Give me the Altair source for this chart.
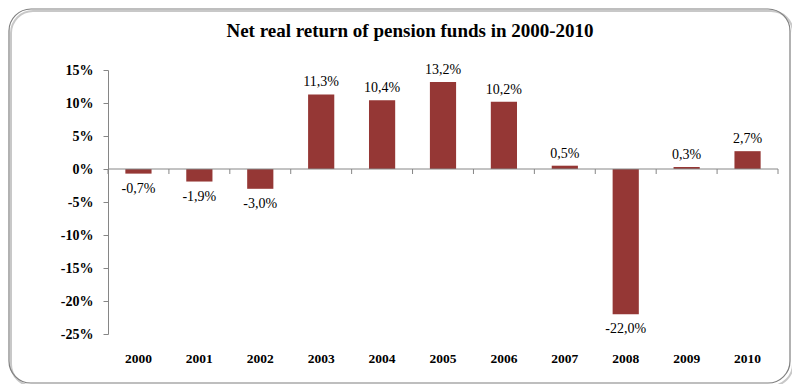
import altair as alt
import pandas as pd

years = ["2000", "2001", "2002", "2003", "2004", "2005", "2006", "2007", "2008", "2009", "2010"]
returns = [-0.7, -1.9, -3.0, 11.3, 10.4, 13.2, 10.2, 0.5, -22.0, 0.3, 2.7]
y_ticks = [-25, -20, -15, -10, -5, 0, 5, 10, 15]
title_text = "Net real return of pension funds in 2000-2010"

df = pd.DataFrame({"year": years, "v": returns})

FONT = "'Liberation Serif', 'Times New Roman', serif"
BAR = "#953735"
GRAY = "#868686"

xscale = alt.Scale(paddingInner=0.57, paddingOuter=0.285)
yscale = alt.Scale(domain=[-25, 15], nice=False)

yax = alt.Axis(values=y_ticks, tickCount=len(y_ticks), labelExpr="datum.value + '%'",
               grid=False, labelOverlap=False, title=None,
               domainColor=GRAY, tickColor=GRAY, tickSize=5, labelPadding=10,
               labelFont=FONT, labelFontSize=14, labelFontWeight="bold",
               labelColor="black", zindex=1)

base = alt.Chart(df)

bars = base.mark_bar(color=BAR).encode(
    x=alt.X("year:O", scale=xscale, title=None,
            axis=alt.Axis(domain=False, ticks=False, labelAngle=0, labelPadding=17,
                          labelFont=FONT, labelFontSize=13.5, labelFontWeight="bold",
                          labelColor="black", zindex=1)),
    y=alt.Y("v:Q", scale=yscale, title=None, axis=yax),
)

label_expr = "replace(replace(format(datum.v, '.1f'), '.', ','), '\u2212', '-') + '%'"

pos_text = base.transform_filter("datum.v >= 0").transform_calculate(
    lab=label_expr
).mark_text(font=FONT, fontSize=14, baseline="bottom", dy=-5, color="black").encode(
    x=alt.X("year:O", scale=xscale),
    y=alt.Y("v:Q", scale=yscale, title=None, axis=yax), text="lab:N"
)

neg_text = base.transform_filter("datum.v < 0").transform_calculate(
    lab=label_expr
).mark_text(font=FONT, fontSize=14, baseline="top", dy=8, color="black").encode(
    x=alt.X("year:O", scale=xscale),
    y=alt.Y("v:Q", scale=yscale, title=None, axis=yax), text="lab:N"
)

# zero line and category boundary ticks
step = 670 / len(years)
zero_line = alt.Chart(alt.Data(values=[{}])).mark_rule(color=GRAY, strokeWidth=1).encode(
    x=alt.value(0), x2=alt.value(670), y=alt.datum(0, scale=yscale)
)
bound_ticks = base.mark_rule(color=GRAY, xOffset=-step / 2, y2Offset=5).encode(
    x=alt.X("year:O", scale=xscale),
    y=alt.datum(0), y2=alt.datum(0)
)
end_tick = alt.Chart(alt.Data(values=[{}])).mark_rule(color=GRAY, y2Offset=5).encode(
    x=alt.value(670), y=alt.datum(0), y2=alt.datum(0)
)

frame_data = alt.Data(values=[{}])
shadow = alt.Chart(frame_data).mark_rect(
    fill=None, stroke="#c8c8c8", strokeWidth=2, cornerRadius=22
).encode(x=alt.value(-97), x2=alt.value(685), y=alt.value(-59), y2=alt.value(316))
frame = alt.Chart(frame_data).mark_rect(
    fill=None, stroke="#7f7f7f", strokeWidth=1.2, cornerRadius=22
).encode(x=alt.value(-99), x2=alt.value(682), y=alt.value(-61), y2=alt.value(313))
title = alt.Chart(alt.Data(values=[{"t": title_text}])).mark_text(
    font=FONT, fontSize=19, fontWeight="bold", color="black", baseline="middle"
).encode(x=alt.value(302), y=alt.value(-39), text="t:N")

chart = alt.layer(shadow, frame, title, bars, zero_line, bound_ticks, end_tick,
                  pos_text, neg_text).properties(
    width=670, height=264,
    padding={"left": 100, "top": 62, "right": 14, "bottom": 50},
    autosize=alt.AutoSizeParams(type="none"),
).configure_view(stroke=None)

chart.save("out.html", embed_options={"renderer": "svg", "actions": False})
